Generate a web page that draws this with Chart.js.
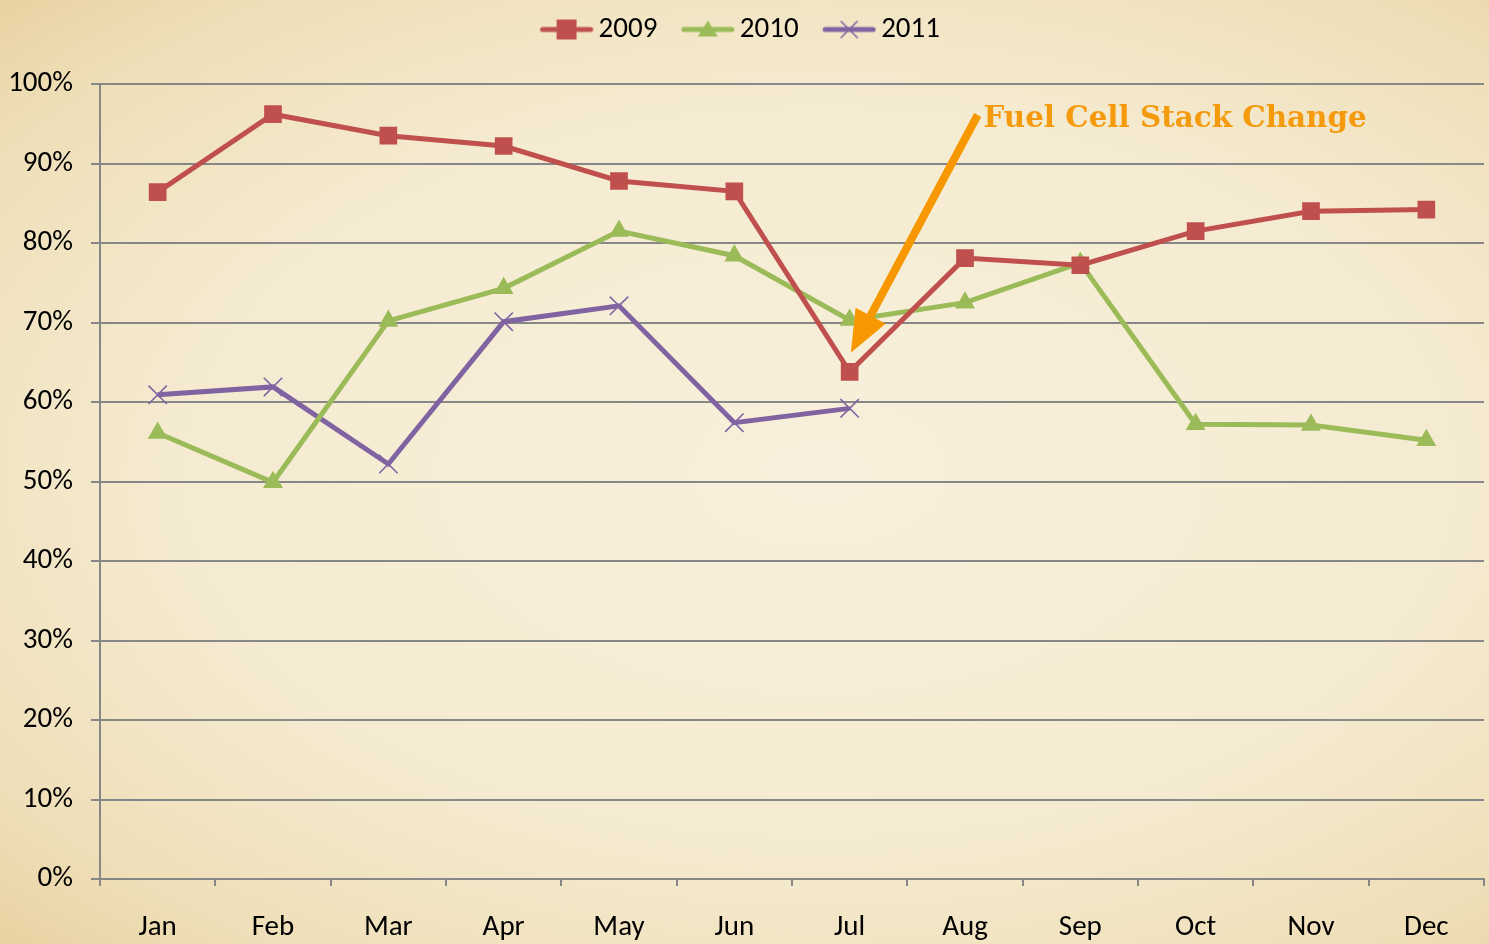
<!DOCTYPE html>
<html>
<head>
<meta charset="utf-8">
<script src="https://cdn.jsdelivr.net/npm/chart.js@4.4.1/dist/chart.umd.min.js"></script>
<style>
    html, body {
        margin: 0;
        padding: 0;
        width: 1489px;
        height: 944px;
        overflow: hidden;
        background: radial-gradient(ellipse at 55% 50%, #f8f0dc 0%, #f5ebd1 55%, #efdfb8 85%, #e8d2a2 100%);
    }
    #wrap {
        position: relative;
        width: 1489px;
        height: 944px;
    }
    canvas { display: block; }
</style>
</head>
<body>
<div id="wrap"><canvas id="myChart" width="1489" height="944"></canvas></div>
<script>
const months = ['Jan', 'Feb', 'Mar', 'Apr', 'May', 'Jun', 'Jul', 'Aug', 'Sep', 'Oct', 'Nov', 'Dec'];
const values2009 = [86.4, 96.2, 93.5, 92.2, 87.8, 86.5, 63.8, 78.1, 77.2, 81.5, 84.0, 84.2];
const values2010 = [56.1, 49.9, 70.2, 74.3, 81.5, 78.4, 70.3, 72.5, 77.5, 57.2, 57.1, 55.2];
const values2011 = [60.9, 61.9, 52.2, 70.1, 72.1, 57.4, 59.2, null, null, null, null, null];
const yTicks = [0, 10, 20, 30, 40, 50, 60, 70, 80, 90, 100];
const noteText = 'Fuel Cell Stack Change';

const red = '#c0504d';
const green = '#9bbb59';
const purple = '#8064a2';
const grey = '#878787';
const orange = '#f79800';
const labelFont = 'Carlito, Lato, sans-serif';
const fontSize = 29;
const padTop = -13;

// little canvas for legend: line with the marker, shifted so the text sits close
function legendIcon(color, style) {
    const c = document.createElement('canvas');
    c.width = 59;
    c.height = 22;
    const g = c.getContext('2d');
    const o = 5;
    g.strokeStyle = color;
    g.fillStyle = color;
    g.lineWidth = 5;
    g.lineCap = 'round';
    g.beginPath();
    g.moveTo(o + 3, 11);
    g.lineTo(o + 51, 11);
    g.stroke();
    if (style === 'rect') {
        g.fillRect(o + 17, 1, 20, 20);
    } else if (style === 'triangle') {
        g.beginPath();
        g.moveTo(o + 27, 2);
        g.lineTo(o + 37, 18);
        g.lineTo(o + 17, 18);
        g.closePath();
        g.fill();
    } else {
        g.lineWidth = 1.6;
        g.beginPath();
        g.moveTo(o + 19, 3);
        g.lineTo(o + 35, 19);
        g.moveTo(o + 35, 3);
        g.lineTo(o + 19, 19);
        g.stroke();
    }
    return c;
}

const noteArrow = {
    id: 'noteArrow',
    afterDatasetsDraw(chart) {
        const ctx = chart.ctx;
        const x = chart.scales.x;
        const y = chart.scales.y;
        const x0 = x.getPixelForValue(7.11), y0 = y.getPixelForValue(96.1);
        const x1 = x.getPixelForValue(6.01), y1 = y.getPixelForValue(66.2);
        const dx = x1 - x0, dy = y1 - y0;
        const len = Math.sqrt(dx * dx + dy * dy);
        const ux = dx / len, uy = dy / len;
        const headLen = 42, headHalf = 17;
        const bx = x1 - ux * headLen, by = y1 - uy * headLen;

        ctx.save();
        ctx.strokeStyle = orange;
        ctx.fillStyle = orange;
        ctx.lineWidth = 8;
        ctx.beginPath();
        ctx.moveTo(x0, y0);
        ctx.lineTo(bx + ux * 4, by + uy * 4);
        ctx.stroke();
        ctx.beginPath();
        ctx.moveTo(x1, y1);
        ctx.lineTo(bx - uy * headHalf, by + ux * headHalf);
        ctx.lineTo(bx + uy * headHalf, by - ux * headHalf);
        ctx.closePath();
        ctx.fill();

        // text, sized to the width it has in the original
        let size = 28;
        ctx.font = 'bold ' + size + 'px "DejaVu Serif", serif';
        const w = ctx.measureText(noteText).width;
        size = size * 384 / w;
        ctx.font = 'bold ' + size.toFixed(1) + 'px "DejaVu Serif", serif';
        ctx.textAlign = 'left';
        ctx.textBaseline = 'alphabetic';
        ctx.fillStyle = '#f59a0c';
        ctx.fillText(noteText, x.getPixelForValue(7.16), y.getPixelForValue(94.6));
        ctx.restore();
    }
};

const legendHeight = {
    id: 'legendHeight',
    beforeInit(chart) {
        const fit = chart.legend.fit;
        chart.legend.fit = function () {
            fit.bind(chart.legend)();
            this.height = 84 - padTop;
        };
    }
};

const ctx = document.getElementById('myChart').getContext('2d');
const chart = new Chart(ctx, {
    type: 'line',
    data: {
        labels: months,
        datasets: [{
            label: '2009',
            data: values2009,
            borderColor: red,
            backgroundColor: red,
            borderWidth: 5,
            pointStyle: 'rect',
            pointRadius: 12.5,
            pointBorderWidth: 0,
            tension: 0
        }, {
            label: '2010',
            data: values2010,
            borderColor: green,
            backgroundColor: green,
            borderWidth: 5,
            pointStyle: 'triangle',
            pointRadius: 11.5,
            pointBorderWidth: 0,
            tension: 0
        }, {
            label: '2011',
            data: values2011,
            borderColor: purple,
            backgroundColor: purple,
            borderWidth: 5,
            pointStyle: 'crossRot',
            pointRadius: 13,
            pointBorderWidth: 1.6,
            tension: 0
        }]
    },
    options: {
        responsive: false,
        animation: false,
        devicePixelRatio: 1,
        layout: {autoPadding: false, padding: {left: 0, right: 5, top: padTop, bottom: 0}},
        plugins: {
            tooltip: {enabled: false},
            legend: {
                position: 'top',
                align: 'center',
                labels: {
                    usePointStyle: true,
                    pointStyleWidth: 40,
                    boxHeight: 22,
                    padding: 28,
                    color: '#000',
                    font: {family: labelFont, size: fontSize},
                    generateLabels(chart) {
                        const styles = ['rect', 'triangle', 'crossRot'];
                        return chart.data.datasets.map((ds, i) => ({
                            text: ds.label,
                            pointStyle: legendIcon(ds.borderColor, styles[i]),
                            fillStyle: ds.borderColor,
                            strokeStyle: ds.borderColor,
                            lineWidth: 0,
                            hidden: false,
                            datasetIndex: i,
                            fontColor: '#000'
                        }));
                    }
                }
            }
        },
        scales: {
            x: {
                offset: true,
                grid: {
                    display: true,
                    offset: true,
                    drawOnChartArea: false,
                    drawTicks: true,
                    tickLength: 7,
                    color: grey,
                    lineWidth: 2
                },
                border: {display: true, color: grey, width: 2},
                ticks: {
                    color: '#000',
                    padding: 24,
                    maxRotation: 0,
                    font: {family: labelFont, size: fontSize}
                },
                afterFit(scale) {
                    scale.height = 944 - 879;
                    scale.paddingLeft = 0;
                    scale.paddingRight = 0;
                }
            },
            y: {
                min: 0,
                max: 100,
                afterBuildTicks(scale) {
                    scale.ticks = yTicks.map(v => ({value: v}));
                },
                grid: {
                    color: grey,
                    lineWidth: 2,
                    tickLength: 9
                },
                border: {display: true, color: grey, width: 2},
                ticks: {
                    color: '#000',
                    padding: 18,
                    font: {family: labelFont, size: fontSize},
                    callback: v => v + '%'
                },
                afterFit(scale) {
                    scale.width = 100;
                }
            }
        }
    },
    plugins: [legendHeight, noteArrow]
});
</script>
</body>
</html>
